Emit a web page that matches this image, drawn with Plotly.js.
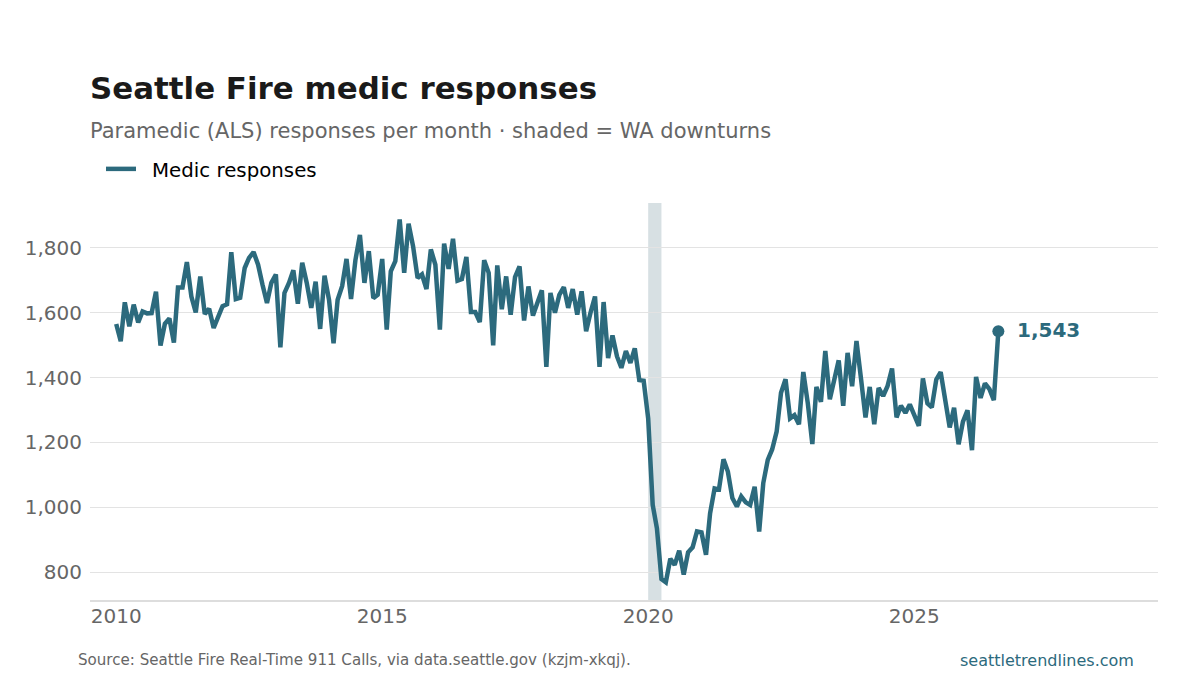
<!DOCTYPE html>
<html><head><meta charset="utf-8">
<script src="https://cdn.plot.ly/plotly-3.0.1.min.js"></script>
<style>html,body{margin:0;padding:0;background:#fff}</style></head>
<body><div id="chart" style="width:1200px;height:675px"></div>
<script>
const startYear = 2010;
const seriesName = "Medic responses";
const chartTitle = "Seattle Fire medic responses";
const chartSubtitle = "Paramedic (ALS) responses per month · shaded = WA downturns";
const sourceText = "Source: Seattle Fire Real-Time 911 Calls, via data.seattle.gov (kzjm-xkqj).";
const siteText = "seattletrendlines.com";
const lastLabel = "1,543";
const downturnStart = "2020-01-01";
const downturnEnd = "2020-04-01";
const yTicks = [800,1000,1200,1400,1600,1800];
const yTickLabels = ["800","1,000","1,200","1,400","1,600","1,800"];
const xTicks = ["2010-01-01","2015-01-01","2020-01-01","2025-01-01"];
const xTickLabels = ["2010","2015","2020","2025"];
const values = [
1565,1512,1632,1558,1625,1570,1604,1598,1599,1665,1499,1566,
1582,1508,1678,1678,1756,1650,1601,1712,1596,1612,1553,1590,
1620,1626,1787,1642,1646,1738,1769,1787,1748,1687,1630,1692,
1718,1493,1661,1692,1731,1628,1754,1692,1615,1696,1550,1714,
1640,1506,1640,1682,1766,1642,1762,1840,1692,1790,1645,1655,
1766,1548,1728,1759,1888,1723,1875,1805,1707,1718,1673,1795,
1748,1548,1813,1735,1828,1699,1704,1772,1602,1602,1571,1762,
1723,1499,1746,1611,1712,1594,1710,1743,1576,1681,1591,1630,
1669,1433,1661,1600,1655,1679,1615,1673,1594,1666,1543,1600,
1650,1433,1633,1460,1530,1465,1430,1482,1445,1490,1392,1390,
1274,1007,935,778,768,841,822,866,792,861,876,925,
922,853,981,1058,1055,1148,1110,1028,1002,1033,1015,1007,
1063,925,1074,1146,1178,1233,1353,1395,1274,1284,1256,1417,
1320,1195,1371,1325,1482,1333,1397,1453,1313,1476,1373,1513,
1397,1277,1371,1256,1368,1343,1373,1428,1277,1313,1291,1317,
1284,1251,1397,1320,1308,1394,1417,1320,1246,1307,1194,1264,
1299,1176,1402,1337,1382,1364,1330,1543];
const months = values.map((_, i) => {
  const y = startYear + Math.floor(i/12);
  const m = String(i%12+1).padStart(2,"0");
  return `${y}-${m}-01`;
});
const teal = "#2c6a7d";
const font = "'DejaVu Sans', sans-serif";
const plotH = 397;
Plotly.newPlot("chart",[
 {x:months,y:values,type:"scatter",mode:"lines",name:seriesName,
  line:{color:teal,width:4.5,shape:"linear"},hoverinfo:"x+y"},
 {x:[months[months.length-1]],y:[values[values.length-1]],type:"scatter",mode:"markers",
  marker:{color:teal,size:12},showlegend:false,hoverinfo:"skip"}
],{
 width:1200,height:675,
 paper_bgcolor:"#fff",plot_bgcolor:"#fff",
 margin:{l:90,r:42,t:203,b:75},
 font:{family:font,color:"#666"},
 title:{text:chartTitle,x:90/1200,xanchor:"left",xref:"container",y:1-88/675,yref:"container",yanchor:"middle",
  font:{family:font,size:30.9,color:"#1a1a1a",weight:700}},
 showlegend:true,
 legend:{x:11/1068,xref:"paper",xanchor:"left",y:1+(203-169)/plotH,yref:"paper",yanchor:"middle",
   font:{family:font,size:19.8,color:"#000"},bgcolor:"rgba(0,0,0,0)"},
 xaxis:{type:"date",range:["2009-07-05","2029-08-01"],tickmode:"array",tickvals:xTicks,ticktext:xTickLabels,
  showgrid:false,zeroline:false,showline:true,linecolor:"#dddddd",linewidth:1.5,ticks:"",ticklabelstandoff:-3,
  tickfont:{family:font,size:20,color:"#666"}},
 yaxis:{range:[713.6,1938.5],tickmode:"array",tickvals:yTicks,ticktext:yTickLabels,
  showgrid:true,gridcolor:"#e3e3e3",gridwidth:1,zeroline:false,showline:false,ticks:"",ticklabelstandoff:7,
  tickfont:{family:font,size:20,color:"#666"},automargin:false},
 shapes:[{type:"rect",xref:"x",yref:"paper",x0:downturnStart,x1:downturnEnd,y0:0,y1:1,
   fillcolor:"#d7e0e3",line:{width:0},layer:"below"}],
 annotations:[
  {text:chartSubtitle,xref:"paper",yref:"paper",x:0,y:1+(203-131)/plotH,xanchor:"left",yanchor:"middle",showarrow:false,
   font:{family:font,size:21,color:"#666"},xshift:-2},
  {text:lastLabel,xref:"x",yref:"y",x:months[months.length-1],y:values[values.length-1],xanchor:"left",yanchor:"middle",
   showarrow:false,xshift:17,yshift:1,font:{family:font,size:20,color:teal,weight:700}},
  {text:sourceText,xref:"paper",yref:"paper",x:(78-90)/1068,y:-(660-600)/plotH,xanchor:"left",yanchor:"middle",showarrow:false,
   font:{family:font,size:15.08,color:"#666"},xshift:-2},
  {text:siteText,xref:"paper",yref:"paper",x:(1134-90)/1068,y:-(660-600)/plotH,xanchor:"right",yanchor:"middle",showarrow:false,
   font:{family:font,size:16,color:teal},xshift:2}
 ]
},{displayModeBar:false}).then(() => {
  document.querySelectorAll("#chart .legend .scrollbox").forEach(b => b.removeAttribute("clip-path"));
  document.querySelectorAll("#chart .legend").forEach(l => { l.style.overflow = "visible"; });
  document.querySelectorAll("#chart .legendtext").forEach(t => {
    t.setAttribute("x", Number(t.getAttribute("x")) + 11);
  });
});
</script></body></html>
